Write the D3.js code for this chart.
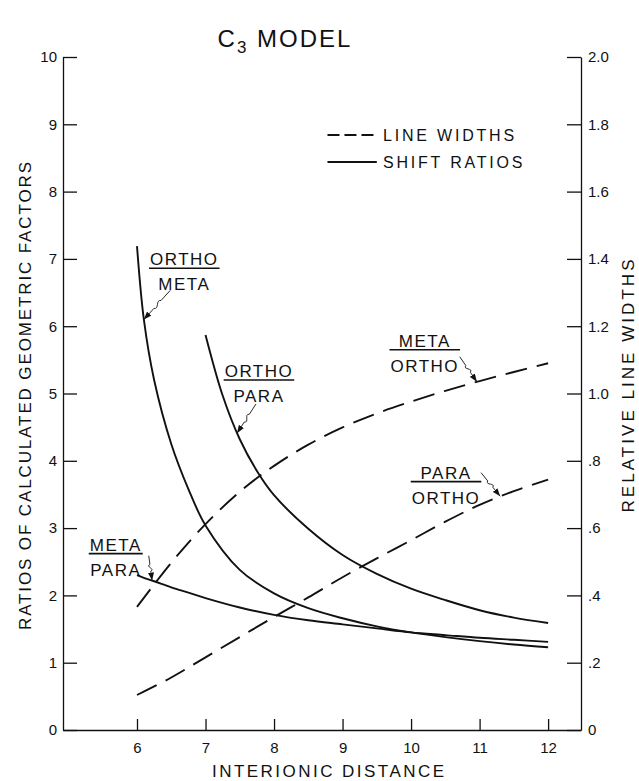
<!DOCTYPE html>
<html><head><meta charset="utf-8">
<script src="https://cdn.jsdelivr.net/npm/d3@7"></script>
<style>
body{margin:0;background:#fff}
svg{display:block}
text{font-family:"Liberation Sans",Arial,sans-serif;fill:#111}
</style>
</head><body>
<svg id="c" width="639" height="781"></svg>
<script>
// ---------- DATA ----------
const distance   = [6, 6.1, 6.25, 6.5, 6.75, 7, 7.5, 8, 8.5, 9, 9.5, 10, 10.5, 11, 11.5, 12];
const orthoMeta  = [7.19, 6.1, 5.2, 4.25, 3.58, 3.04, 2.38, 2.03, 1.81, 1.66, 1.54, 1.45, 1.38, 1.32, 1.27, 1.23];
const metaPara   = [2.30, 2.26, 2.21, 2.12, 2.04, 1.96, 1.82, 1.71, 1.63, 1.57, 1.51, 1.45, 1.41, 1.37, 1.34, 1.31];
const distanceOP = [7, 7.25, 7.5, 7.75, 8, 8.5, 9, 9.5, 10, 10.5, 11, 11.5, 12];
const orthoPara  = [5.87, 4.97, 4.32, 3.85, 3.49, 2.99, 2.6, 2.32, 2.1, 1.93, 1.78, 1.67, 1.59];
const distanceLW = [6, 6.5, 7, 7.5, 8, 8.5, 9, 9.5, 10, 10.5, 11, 11.5, 12];
const metaOrthoWidth = [0.366, 0.497, 0.612, 0.708, 0.785, 0.848, 0.899, 0.941, 0.976, 1.008, 1.037, 1.064, 1.09];
const paraOrthoWidth = [0.104, 0.156, 0.216, 0.276, 0.336, 0.394, 0.454, 0.51, 0.564, 0.619, 0.669, 0.71, 0.744];

const leftTicks = [0,1,2,3,4,5,6,7,8,9,10];
const leftTickLabels = ["0","1","2","3","4","5","6","7","8","9","10"];
const rightTicks = [0,0.2,0.4,0.6,0.8,1.0,1.2,1.4,1.6,1.8,2.0];
const rightTickLabels = ["0",".2",".4",".6",".8","1.0","1.2","1.4","1.6","1.8","2.0"];
const bottomTicks = [6,7,8,9,10,11,12];
const bottomTickLabels = ["6","7","8","9","10","11","12"];

const titleMain = "C", titleSub = "3", titleRest = " MODEL";
const xTitle = "INTERIONIC DISTANCE";
const yLeftTitle = "RATIOS OF CALCULATED GEOMETRIC FACTORS";
const yRightTitle = "RELATIVE LINE WIDTHS";
const legendLabels = ["LINE WIDTHS", "SHIFT RATIOS"];

// curve labels (fraction labels) anchored in data units
const curveLabels = [
  {num:"ORTHO", den:"META",  lx:6.69,  ly:6.86, series:"orthoMeta", tx:6.10, sx:-14, sy:22},
  {num:"ORTHO", den:"PARA",  lx:7.78,  ly:5.20, series:"orthoPara", tx:7.46, sx:-3,  sy:24},
  {num:"META",  den:"PARA",  lx:5.69,  ly:2.62, series:"metaPara",  tx:6.22, sx:33,  sy:2},
  {num:"META",  den:"ORTHO", lx:10.20, ly:5.65, series:"metaOrtho", tx:10.96, sx:35, sy:7},
  {num:"PARA",  den:"ORTHO", lx:10.51, ly:3.69, series:"paraOrtho", tx:11.30, sx:35, sy:-9}
];

// ---------- SCALES ----------
const svg = d3.select("#c");
const x  = d3.scaleLinear().domain([4.92, 12.48]).range([63, 581]);
const yL = d3.scaleLinear().domain([0, 10]).range([730, 57]);
const yR = d3.scaleLinear().domain([0, 2]).range([730, 57]);

const ink = "#111";

// ---------- AXES ----------
function styleAxis(g){
  g.attr("font-family", null).attr("font-size", null);
  g.selectAll("path,line").attr("stroke", ink).attr("stroke-width", 1.3);
  g.selectAll("text").attr("fill", ink).style("font-size", "15px");
}
svg.append("g").attr("transform","translate(63,0)")
  .call(d3.axisLeft(yL).tickValues(leftTicks).tickFormat((d,i)=>leftTickLabels[i])
        .tickSize(-14).tickSizeOuter(0).tickPadding(6))
  .call(styleAxis);
svg.append("g").attr("transform","translate(581,0)")
  .call(d3.axisRight(yR).tickValues(rightTicks).tickFormat((d,i)=>rightTickLabels[i])
        .tickSize(-14).tickSizeOuter(0).tickPadding(7))
  .call(styleAxis);
svg.append("g").attr("transform","translate(0,730)")
  .call(d3.axisBottom(x).tickValues(bottomTicks).tickFormat((d,i)=>bottomTickLabels[i])
        .tickSize(-11).tickSizeOuter(0).tickPadding(12))
  .call(styleAxis);

// ---------- TITLES ----------
const t = svg.append("text").attr("x", 285).attr("y", 47).attr("text-anchor","middle")
  .style("font-size","24px").style("letter-spacing","2px");
t.append("tspan").text(titleMain);
t.append("tspan").attr("dy", 6).style("font-size","17px").text(titleSub);
t.append("tspan").attr("dy", -6).text(titleRest);

svg.append("text").attr("x", 328).attr("y", 777).attr("text-anchor","middle")
  .style("font-size","17px").attr("textLength", 232).attr("lengthAdjust","spacing").text(xTitle);
svg.append("text").attr("transform","translate(31,396) rotate(-90)").attr("text-anchor","middle")
  .style("font-size","17px").attr("textLength", 468).attr("lengthAdjust","spacing").text(yLeftTitle);
svg.append("text").attr("transform","translate(634,386) rotate(-90)").attr("text-anchor","middle")
  .style("font-size","17px").attr("textLength", 253).attr("lengthAdjust","spacing").text(yRightTitle);

// ---------- CURVES ----------
const lineL = d3.line().x(d=>x(d[0])).y(d=>yL(d[1])).curve(d3.curveCatmullRom.alpha(0.5));
const lineR = d3.line().x(d=>x(d[0])).y(d=>yR(d[1])).curve(d3.curveCatmullRom.alpha(0.5));

const series = {
  orthoMeta: {pts: d3.zip(distance, orthoMeta), gen: lineL, dash: null},
  metaPara:  {pts: d3.zip(distance, metaPara),  gen: lineL, dash: null},
  orthoPara: {pts: d3.zip(distanceOP, orthoPara), gen: lineL, dash: null},
  metaOrtho: {pts: d3.zip(distanceLW, metaOrthoWidth), gen: lineR, dash: "22,10"},
  paraOrtho: {pts: d3.zip(distanceLW, paraOrthoWidth), gen: lineR, dash: "22,10"}
};
const nodes = {};
for (const k in series){
  const s = series[k];
  nodes[k] = svg.append("path").attr("d", s.gen(s.pts)).attr("fill","none")
    .attr("stroke", ink).attr("stroke-width", 1.9)
    .attr("stroke-dasharray", s.dash).node();
}

// ---------- LEGEND ----------
const lgX0 = x(8.78), lgX1 = x(9.5), lgTx = x(9.59);
const lgY = [yL(8.84), yL(8.44)];
svg.append("line").attr("x1", lgX0).attr("x2", lgX1).attr("y1", lgY[0]).attr("y2", lgY[0])
  .attr("stroke", ink).attr("stroke-width", 1.9).attr("stroke-dasharray","12,5");
svg.append("line").attr("x1", lgX0).attr("x2", lgX1).attr("y1", lgY[1]).attr("y2", lgY[1])
  .attr("stroke", ink).attr("stroke-width", 1.9);
legendLabels.forEach((s,i)=>{
  svg.append("text").attr("x", lgTx).attr("y", lgY[i]+6).style("font-size","16px")
    .style("letter-spacing","2.8px").text(s);
});

// ---------- CURVE LABELS + LEADERS ----------
const defs = svg.append("defs");
defs.append("marker").attr("id","arr").attr("viewBox","0 0 8 6").attr("refX",8).attr("refY",3)
  .attr("markerWidth",8).attr("markerHeight",6).attr("markerUnits","userSpaceOnUse").attr("orient","auto")
  .append("path").attr("d","M0,0L8,3L0,6Z").attr("fill", ink);

function pointAtX(node, px){
  const L = node.getTotalLength();
  let lo = 0, hi = L;
  for (let i=0;i<40;i++){
    const m = (lo+hi)/2;
    if (node.getPointAtLength(m).x < px) lo = m; else hi = m;
  }
  return node.getPointAtLength((lo+hi)/2);
}
function leader(x0,y0,x1,y1){
  const dx=x1-x0, dy=y1-y0, len=Math.hypot(dx,dy);
  const nx=-dy/len, ny=dx/len;
  const p = d3.path();
  p.moveTo(x0,y0);
  p.lineTo(x0+dx*0.35, y0+dy*0.35);
  p.bezierCurveTo(x0+dx*0.42+nx*5, y0+dy*0.42+ny*5, x0+dx*0.55-nx*5, y0+dy*0.55-ny*5, x0+dx*0.62, y0+dy*0.62);
  p.lineTo(x1,y1);
  return p.toString();
}

curveLabels.forEach(c=>{
  const cx = x(c.lx), cy = yL(c.ly);
  const g = svg.append("g");
  const a = g.append("text").attr("x", cx).attr("y", cy-3).attr("text-anchor","middle")
    .style("font-size","17px").style("letter-spacing","1.5px").text(c.num);
  const b = g.append("text").attr("x", cx).attr("y", cy+22).attr("text-anchor","middle")
    .style("font-size","17px").style("letter-spacing","1.5px").text(c.den);
  const w = Math.max(a.node().getComputedTextLength(), b.node().getComputedTextLength()) + 2;
  g.append("line").attr("x1", cx-w/2).attr("x2", cx+w/2).attr("y1", cy).attr("y2", cy)
    .attr("stroke", ink).attr("stroke-width", 1.6);
  const tp = pointAtX(nodes[c.series], x(c.tx));
  svg.append("path").attr("d", leader(cx+c.sx, cy+c.sy, tp.x, tp.y))
    .attr("fill","none").attr("stroke", ink).attr("stroke-width", 0.9)
    .attr("marker-end","url(#arr)");
});
</script>
</body></html>
